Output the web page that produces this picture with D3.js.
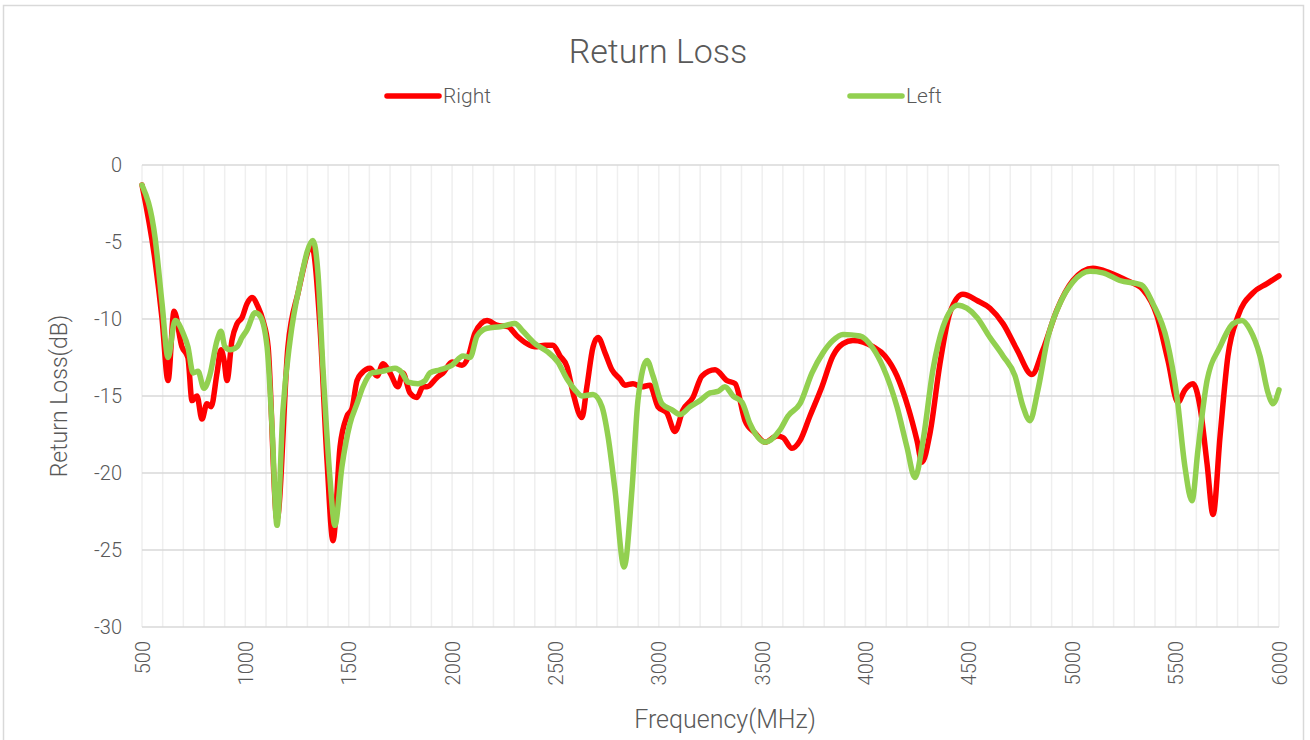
<!DOCTYPE html>
<meta charset="utf-8">
<style>
    body { margin: 0; background: #fff; }
    text { font-family: Roboto, "Noto Sans", sans-serif; font-weight: 300; fill: #595959; }
    .grid-h line { stroke: #d9d9d9; stroke-width: 1.5; }
    .grid-v line { stroke: #efefef; stroke-width: 1.5; }
    .axis path, .axis line { display: none; }
    .axis text { font-size: 20px; }
</style>
<svg width="1310" height="740"></svg>
<script src="https://d3js.org/d3.v7.min.js"></script>
<script>

    // Right channel (MHz, dB)
    var rightFreq = [500, 563, 597, 626, 655, 693, 722, 742, 766, 790, 814, 834, 863, 882, 897, 911, 935, 960, 984, 1008,
        1032, 1061, 1085, 1110, 1153, 1206, 1255, 1322, 1361, 1395, 1424, 1458, 1492, 1516, 1540, 1564, 1603, 1637, 1666, 1700,
        1738, 1762, 1796, 1830, 1859, 1879, 1927, 1956, 2000, 2048, 2077, 2111, 2169, 2217, 2270, 2314, 2362, 2401, 2449, 2488,
        2522, 2556, 2585, 2628, 2652, 2682, 2706, 2740, 2773, 2812, 2836, 2875, 2918, 2957, 2996, 3039, 3078, 3117, 3165, 3209,
        3272, 3330, 3369, 3417, 3465, 3514, 3572, 3601, 3644, 3683, 3731, 3789, 3842, 3891, 3939, 3988, 4036, 4094, 4152, 4205,
        4249, 4273, 4312, 4360, 4408, 4471, 4539, 4602, 4665, 4733, 4805, 4858, 4926, 5003, 5100, 5182, 5264, 5342, 5410, 5463,
        5511, 5545, 5584, 5618, 5652, 5681, 5715, 5753, 5802, 5874, 5942, 6000];
    var rightLoss = [-1.3, -6.2, -10, -14.0, -9.5, -11.8, -12.5, -15.3, -15.0, -16.5, -15.5, -15.7, -13.5, -12.0, -12.7, -14.0, -11.4, -10.3, -9.9, -9.0,
        -8.6, -9.2, -10.1, -11.8, -23.0, -11.8, -8.3, -5.3, -10.5, -19.2, -24.4, -18.3, -16.3, -15.8, -14.0, -13.5, -13.2, -13.7, -12.9, -13.5,
        -14.4, -13.5, -14.8, -15.1, -14.4, -14.4, -13.8, -13.5, -12.8, -13.0, -12.5, -10.9, -10.1, -10.4, -10.5, -11.1, -11.6, -11.8, -11.7, -11.7,
        -12.4, -13.1, -14.8, -16.4, -14.4, -11.8, -11.2, -12.2, -13.3, -13.9, -14.3, -14.2, -14.4, -14.3, -15.7, -16.1, -17.3, -15.9, -15.1, -13.7,
        -13.3, -14.0, -14.2, -16.6, -17.4, -18.0, -17.6, -17.7, -18.4, -17.9, -16.3, -14.4, -12.4, -11.6, -11.4, -11.5, -11.8, -12.4, -13.7, -15.7,
        -17.9, -19.3, -17.4, -12.9, -9.6, -8.4, -8.8, -9.3, -10.3, -12.0, -13.6, -12.0, -9.4, -7.5, -6.7, -7.0, -7.5, -8.1, -9.8, -12.7,
        -15.4, -14.6, -14.2, -15.7, -19.4, -22.7, -17.6, -12.4, -9.8, -8.3, -7.7, -7.2];

    // Left channel
    var leftFreq = [500, 563, 597, 626, 660, 698, 722, 747, 771, 800, 829, 863, 882, 901, 926, 960, 984, 1008, 1047, 1071,
        1105, 1129, 1153, 1182, 1216, 1264, 1327, 1351, 1375, 1409, 1433, 1467, 1506, 1540, 1569, 1612, 1661, 1690, 1724, 1758,
        1787, 1835, 1869, 1893, 1941, 2000, 2053, 2087, 2121, 2169, 2232, 2304, 2343, 2401, 2459, 2512, 2556, 2594, 2628, 2682,
        2725, 2754, 2788, 2832, 2870, 2899, 2943, 2972, 3015, 3064, 3103, 3151, 3199, 3248, 3286, 3320, 3359, 3402, 3441, 3514,
        3586, 3625, 3683, 3741, 3794, 3842, 3891, 3973, 4036, 4084, 4152, 4200, 4239, 4278, 4326, 4375, 4447, 4490, 4539, 4602,
        4665, 4723, 4762, 4795, 4834, 4882, 4940, 5003, 5086, 5148, 5230, 5336, 5390, 5458, 5506, 5545, 5579, 5608, 5652, 5715,
        5778, 5821, 5860, 5908, 5947, 5971, 6000];
    var leftLoss = [-1.3, -4.7, -9.0, -12.5, -10.1, -10.9, -11.8, -13.5, -13.4, -14.5, -13.6, -11.4, -10.8, -11.8, -12.0, -11.8, -11.2, -10.7, -9.6, -9.8,
        -11.8, -17.0, -23.4, -15.9, -11.4, -7.7, -4.9, -7.0, -13.1, -20.3, -23.4, -19.6, -16.8, -15.5, -14.4, -13.5, -13.4, -13.3, -13.2, -13.5,
        -14.1, -14.2, -14.0, -13.5, -13.3, -13.0, -12.4, -12.5, -11.1, -10.6, -10.5, -10.3, -10.8, -11.6, -12.1, -12.8, -13.9, -14.6, -15.0, -14.9,
        -15.7, -17.6, -21.1, -26.1, -21.1, -15.3, -12.7, -13.7, -15.5, -15.9, -16.2, -15.7, -15.3, -14.8, -14.7, -14.4, -15.0, -15.4, -16.8, -18.0,
        -17.2, -16.3, -15.5, -13.5, -12.2, -11.4, -11.0, -11.1, -11.9, -13.1, -15.7, -18.3, -20.3, -17.9, -13.3, -10.5, -9.1, -9.3, -9.9, -11.2,
        -12.4, -13.7, -15.7, -16.6, -14.6, -11.2, -9.0, -7.6, -6.9, -7.0, -7.5, -7.8, -9.0, -11.4, -15.0, -19.6, -21.8, -18.5, -14.0, -11.8,
        -10.3, -10.1, -10.7, -12.4, -14.8, -15.5, -14.6];

    var xTicks = [500, 1000, 1500, 2000, 2500, 3000, 3500, 4000, 4500, 5000, 5500, 6000];
    var yTicks = [0, -5, -10, -15, -20, -25, -30];
    var seriesNames = ["Right", "Left"];
    var seriesColors = ["#ff0000", "#92d050"];

    var svg = d3.select("svg"),
        margin = { top: 165, right: 31, bottom: 113, left: 142 },
        width = +svg.attr("width") - margin.left - margin.right,
        height = +svg.attr("height") - margin.top - margin.bottom;

    // chart frame
    svg.append("rect")
        .attr("x", 3.5).attr("y", 5.5)
        .attr("width", 1300).attr("height", 760)
        .attr("fill", "none")
        .attr("stroke", "#d9d9d9")
        .attr("stroke-width", 1.5);

    var x = d3.scaleLinear().domain([500, 6000]).range([0, width]);
    var y = d3.scaleLinear().domain([-30, 0]).range([height, 0]);

    var g = svg.append("g")
        .attr("transform", "translate(" + margin.left + "," + margin.top + ")");

    // vertical grid every 100 MHz
    g.append("g")
        .attr("class", "grid-v")
        .selectAll("line")
        .data(d3.range(500, 6001, 100))
        .enter().append("line")
        .attr("x1", function (d) { return x(d); })
        .attr("x2", function (d) { return x(d); })
        .attr("y1", 0)
        .attr("y2", height);

    g.append("g")
        .attr("class", "grid-h")
        .selectAll("line")
        .data(yTicks)
        .enter().append("line")
        .attr("x1", 0)
        .attr("x2", width)
        .attr("y1", function (d) { return y(d); })
        .attr("y2", function (d) { return y(d); });

    // axes (labels only), plain hyphen minus like the original
    g.append("g")
        .attr("class", "axis")
        .call(d3.axisLeft(y).tickValues(yTicks).tickSize(0).tickPadding(20)
            .tickFormat(function (d) { return String(d); }))
        .selectAll("text")
        .attr("dy", "0.32em");

    g.append("g")
        .attr("class", "axis")
        .attr("transform", "translate(0," + height + ")")
        .call(d3.axisBottom(x).tickValues(xTicks).tickFormat(d3.format("d")).tickSize(0))
        .selectAll("text")
        .attr("transform", "rotate(-90)")
        .attr("x", -14)
        .attr("y", 0)
        .attr("dy", "0.35em")
        .style("text-anchor", "end");

    // series
    var line = d3.line()
        .x(function (d) { return x(d[0]); })
        .y(function (d) { return y(d[1]); })
        .curve(d3.curveMonotoneX);

    var series = [d3.zip(rightFreq, rightLoss), d3.zip(leftFreq, leftLoss)];

    g.selectAll(".series")
        .data(series)
        .enter().append("path")
        .attr("class", "series")
        .attr("d", line)
        .attr("fill", "none")
        .attr("stroke", function (d, i) { return seriesColors[i]; })
        .attr("stroke-width", 5.5)
        .attr("stroke-linejoin", "round")
        .attr("stroke-linecap", "round");

    // title
    svg.append("text")
        .attr("x", 658)
        .attr("y", 63)
        .attr("text-anchor", "middle")
        .style("font-size", "34px")
        .text("Return Loss");

    // legend
    var legendX = [385, 848];
    var legend = svg.selectAll(".legend")
        .data(seriesNames)
        .enter().append("g")
        .attr("class", "legend")
        .attr("transform", function (d, i) { return "translate(" + legendX[i] + ",96)"; });

    legend.append("line")
        .attr("x1", 2).attr("x2", 54)
        .attr("stroke", function (d, i) { return seriesColors[i]; })
        .attr("stroke-width", 5.5)
        .attr("stroke-linecap", "round");

    legend.append("text")
        .attr("x", 58)
        .attr("dy", "0.35em")
        .style("font-size", "21px")
        .text(function (d) { return d; });

    // axis titles
    svg.append("text")
        .attr("transform", "translate(67," + (margin.top + height / 2) + ") rotate(-90)")
        .attr("text-anchor", "middle")
        .style("font-size", "23px")
        .text("Return Loss(dB)");

    svg.append("text")
        .attr("x", 725)
        .attr("y", 728)
        .attr("text-anchor", "middle")
        .style("font-size", "25px")
        .text("Frequency(MHz)");

</script>
